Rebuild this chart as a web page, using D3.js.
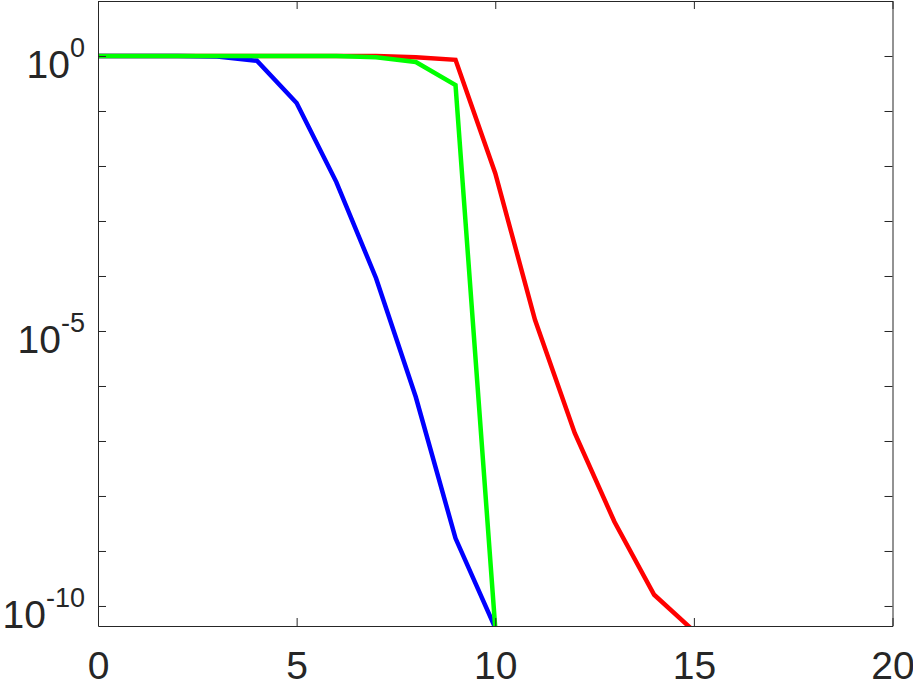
<!DOCTYPE html>
<html><head><meta charset="utf-8">
<script src="https://cdn.jsdelivr.net/npm/d3@7"></script>
<style>body{margin:0;background:#fff}svg{display:block}</style>
</head><body>
<svg id="c" width="913" height="682"></svg>
<script>
const blueX = [0,1,2,3,4,5,6,7,8,9,10];
const blueY = [1,1,1,0.977,0.82,0.14,5.1e-3,9.1e-5,6.3e-7,1.7e-9,4e-11];
const redX = [0,1,2,3,4,5,6,7,8,9,10,11,12,13,14,15];
const redY = [1,1,1,1,1,1,1,1,0.95,0.85,7.4e-3,1.6e-5,1.4e-7,3.4e-9,1.6e-10,3.5e-11];
const greenX = [0,1,2,3,4,5,6,7,8,9,10];
const greenY = [1,1,1,1,1,1,1,0.95,0.78,0.295,4e-11];
const xTicks = [0,5,10,15,20];
const yTicks = [1e1,1e0,1e-1,1e-2,1e-3,1e-4,1e-5,1e-6,1e-7,1e-8,1e-9,1e-10];
const yLabelExp = {"0":"0","-5":"-5","-10":"-10"};

const L=98, R=892.5, T=1, B=626;
const svg = d3.select("#c");
const x = d3.scaleLinear().domain([0,20]).range([L,R]);
const y = d3.scaleLog().domain([Math.pow(10,-10.364),10]).range([B,T]);
const axisColor="#262626";
const font="'Liberation Sans', Arial, Helvetica, sans-serif";

svg.append("defs").append("clipPath").attr("id","clip")
  .append("rect").attr("x",L).attr("y",T).attr("width",R-L).attr("height",B-T);

const line = d3.line().x(d=>x(d[0])).y(d=>y(d[1]));
const series = [
  {xs:redX, ys:redY, c:"#ff0000"},
  {xs:blueX, ys:blueY, c:"#0000ff"},
  {xs:greenX, ys:greenY, c:"#00ff00"}
];
const g = svg.append("g").attr("clip-path","url(#clip)");
series.forEach(s=>{
  g.append("path").datum(s.xs.map((v,i)=>[v,s.ys[i]]))
   .attr("d",line).attr("fill","none").attr("stroke",s.c)
   .attr("stroke-width",4.5).attr("stroke-linejoin","miter");
});

function styleAxis(sel){
  sel.selectAll("path").attr("stroke",axisColor).attr("stroke-width",1);
  sel.selectAll("line").attr("stroke",axisColor).attr("stroke-width",1);
}
// bottom
const xb = svg.append("g").attr("transform",`translate(0,${B})`)
  .call(d3.axisBottom(x).tickValues(xTicks).tickSizeInner(-8).tickSizeOuter(0).tickFormat(d3.format("d")));
styleAxis(xb);
xb.selectAll("text").attr("y",null).attr("dy",null).attr("transform","translate(0,53)")
  .attr("font-family",font).attr("font-size",39).attr("fill",axisColor);
// top
const xt = svg.append("g").attr("transform",`translate(0,${T})`)
  .call(d3.axisTop(x).tickValues(xTicks).tickSizeInner(-8).tickSizeOuter(0).tickFormat(""));
styleAxis(xt);
// left
const yl = svg.append("g").attr("transform",`translate(${L},0)`)
  .call(d3.axisLeft(y).tickValues(yTicks).tickSizeInner(-8).tickSizeOuter(0).tickFormat(""));
styleAxis(yl);
// right
const yr = svg.append("g").attr("transform",`translate(${R},0)`)
  .call(d3.axisRight(y).tickValues(yTicks).tickSizeInner(-8).tickSizeOuter(0).tickFormat(""));
styleAxis(yr);

// y labels
Object.keys(yLabelExp).forEach(k=>{
  const yy = y(Math.pow(10,+k));
  const t = svg.append("text").attr("x",85).attr("y",yy+22)
    .attr("text-anchor","end").attr("font-family",font).attr("fill",axisColor).attr("font-size",39);
  t.append("tspan").text("10");
  t.append("tspan").attr("dy",-21).attr("font-size",27).text(yLabelExp[k]);
});
</script>
</body></html>
